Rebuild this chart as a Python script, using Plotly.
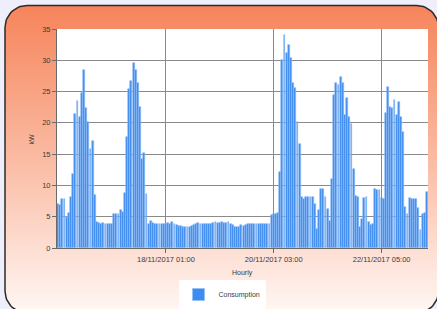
import numpy as np
import pandas as pd
import plotly.graph_objects as go

# ---------------- data (hourly consumption in kW) ----------------
start_time = "2017-11-15 23:00"

kw_peak1 = [7.1, 6.9, 7.9, 7.9, 5.0, 5.6, 8.2, 11.8, 21.4, 23.5, 20.9, 24.7,
            28.4, 22.3, 20.1, 15.9, 17.1, 8.4, 4.2]
kw_night1 = [4.0, 3.9, 4.0, 3.9, 3.9, 3.9, 3.9]
kw_peak2 = [5.4, 5.5, 5.5, 6.0, 5.8, 8.8, 17.7, 25.4, 26.7, 29.5, 28.4, 26.3,
            22.5, 14.3, 15.2, 8.6]
kw_low = [3.9, 4.3, 4.0, 3.8, 3.8, 3.9, 3.8, 3.9, 3.8, 4.0, 3.8, 4.1, 3.9, 3.6,
          3.5, 3.5, 3.4, 3.4, 3.4, 3.3, 3.5, 3.7, 3.8, 4.0, 3.9, 3.8, 3.8, 3.8,
          3.9, 3.8, 4.0, 4.1, 4.0, 4.0, 4.1, 4.0, 4.0, 4.2, 3.9, 3.6, 3.4, 3.4,
          3.3, 3.6, 3.5, 3.7, 3.8, 3.8, 3.8, 3.9, 3.9, 3.9, 3.9, 3.9, 3.9, 3.9,
          3.9]
kw_peak3 = [5.3, 5.4, 5.5, 5.6, 12.2, 30.0, 34.0, 31.2, 32.5, 30.4, 26.4, 25.5,
            20.2, 16.6]
kw_mid = [8.1, 7.8, 8.1, 8.1, 8.2, 8.2, 7.1, 3.1, 6.0, 9.4, 9.5, 8.2, 6.3, 4.3]
kw_peak4 = [11.0, 24.4, 26.3, 26.0, 27.3, 26.4, 21.3, 23.9, 21.0, 19.8, 12.6,
            8.3, 8.2, 3.4, 4.7, 8.0, 8.2, 4.2, 3.6, 3.9, 9.4, 9.3, 9.2, 8.0, 7.9]
kw_peak5 = [21.5, 25.8, 22.6, 22.4, 23.7, 21.3, 23.4, 20.9, 18.5, 6.6, 5.4, 8.0,
            7.8, 7.8, 7.8, 6.4, 2.8, 5.5, 5.6, 8.9]

consumption = (kw_peak1 + kw_night1 + kw_peak2 + kw_low + kw_peak3 + kw_mid
               + kw_peak4 + kw_peak5)
hours = pd.date_range(start_time, periods=len(consumption), freq="h")

tick_times = ["2017-11-18 01:00", "2017-11-20 03:00", "2017-11-22 05:00"]
tick_labels = ["18/11/2017 01:00", "20/11/2017 03:00", "22/11/2017 05:00"]
y_ticks = [0, 5, 10, 15, 20, 25, 30, 35]

# ---------------- styling / layout ----------------
W, H = 437, 309
FONT = "Liberation Sans"
TXT = "#3a3a3a"


def rounded_rect(x0, y0, x1, y1, r, n=16):
    xs, ys = [], []
    corners = [(x1 - r, y0 + r, -90, 0), (x1 - r, y1 - r, 0, 90),
               (x0 + r, y1 - r, 90, 180), (x0 + r, y0 + r, 180, 270)]
    for cx, cy, a0, a1 in corners:
        t = np.radians(np.linspace(a0, a1, n))
        xs += list(cx + r * np.cos(t))
        ys += list(cy + r * np.sin(t))
    xs.append(xs[0])
    ys.append(ys[0])
    return xs, ys


panel_x, panel_y = rounded_rect(5, 5.5, 438.5, 313, 22)

fig = go.Figure()

# gradient panel (background subplot in pixel coordinates)
fig.add_trace(go.Scatter(
    x=panel_x, y=panel_y, mode="lines", fill="toself",
    line=dict(color="#2b2b2b", width=1.5),
    fillgradient=dict(type="vertical", start=5.5, stop=313,
                      colorscale=[[0, "#F6845B"], [0.5, "#FABBA3"],
                                  [1, "#FFF7F4"]]),
    hoverinfo="skip", showlegend=False, xaxis="x", yaxis="y"))

fig.add_trace(go.Bar(
    x=hours, y=consumption, name="Consumption",
    width=3600 * 1000 * 0.86,
    marker=dict(color="#3E8CEF", line=dict(color="#8FBDF6", width=0.6)),
    xaxis="x2", yaxis="y2"))

x_range = [hours[0] - pd.Timedelta(minutes=30), hours[-1] + pd.Timedelta(minutes=30)]

fig.add_shape(type="rect", xref="x2", yref="y2", x0=x_range[0], x1=x_range[1],
              y0=0, y1=35, fillcolor="white", line=dict(width=0), layer="below")

plot_l, plot_r, plot_t, plot_b = 57, 428, 29, 248

fig.update_layout(
    width=W, height=H,
    margin=dict(l=0, r=0, t=0, b=0, autoexpand=False),
    paper_bgcolor="#EEEFFA",
    plot_bgcolor="rgba(0,0,0,0)",
    font=dict(family=FONT, size=7, color=TXT),
    bargap=0,
    xaxis=dict(domain=[0, 1], range=[0, W], visible=False, fixedrange=True),
    yaxis=dict(domain=[0, 1], range=[H, 0], visible=False, fixedrange=True),
    xaxis2=dict(
        domain=[plot_l / W, plot_r / W], anchor="y2", type="date",
        range=x_range, tickvals=tick_times, ticktext=tick_labels,
        showgrid=True, gridcolor="#8a8a8a", gridwidth=1,
        showline=True, linecolor="#6a6a6a", linewidth=1,
        ticks="outside", ticklen=4, tickcolor="#6a6a6a",
        tickfont=dict(size=7.5, color=TXT), zeroline=False, automargin=False),
    yaxis2=dict(
        domain=[(H - plot_b) / H, (H - plot_t) / H], anchor="x2",
        range=[0, 35], tickvals=y_ticks,
        showgrid=True, gridcolor="#8a8a8a", gridwidth=1,
        showline=True, linecolor="#6a6a6a", linewidth=1,
        ticks="outside", ticklen=4, tickcolor="#6a6a6a",
        tickfont=dict(size=7.5, color=TXT), zeroline=False, automargin=False),
    legend=dict(x=222 / W, y=0.0, xanchor="center", yanchor="bottom",
                bgcolor="white", orientation="h", font=dict(size=7, color=TXT),
                itemwidth=30),
    annotations=[
        dict(text="kW", x=30.5 / W, y=(H - 139) / H, xref="paper", yref="paper",
             xanchor="center", yanchor="middle",
             showarrow=False, textangle=-90, font=dict(size=7, color=TXT)),
        dict(text="Hourly", x=242.5 / W, y=(H - 273) / H, xref="paper",
             yref="paper", xanchor="center", yanchor="middle",
             showarrow=False, font=dict(size=7, color=TXT)),
    ],
)

fig.write_html("out.html", config={"displayModeBar": False},
               post_script="document.body.style.margin='0px';")
